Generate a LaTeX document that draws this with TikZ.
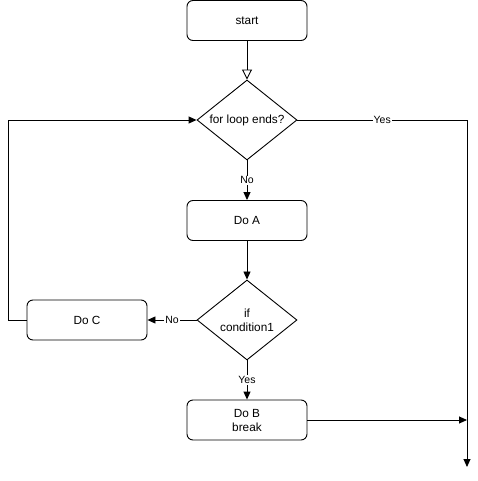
\documentclass[tikz,border=0pt]{standalone}
\usepackage{fontspec}
\setmainfont{Liberation Sans}
\usetikzlibrary{shapes.geometric,arrows.meta}
\begin{document}
\begin{tikzpicture}[x=1pt,y=-1pt,
  every node/.style={font=\fontsize{11.8}{14}\selectfont},
  box/.style={draw,rounded corners=6pt,minimum width=120pt,minimum height=40pt,align=center,line width=0.9pt,inner sep=0pt},
  dia/.style={draw,diamond,aspect=1.25,minimum width=100pt,minimum height=80pt,align=center,line width=0.9pt,inner sep=0pt},
  conn/.style={line width=0.9pt},
  arr/.style={conn,-{Triangle[length=8pt,width=7pt]}},
  lbl/.style={fill=white,inner sep=1pt,font=\fontsize{10.5}{12}\selectfont}]
\useasboundingbox (0,0) rectangle (478,481);
\node[box] (start) at (247,20.5) {start};
\node[dia] (loop) at (247,120) {for loop ends?};
\node[box] (doa) at (247,220.5) {Do A};
\node[dia] (cond) at (247,320) {if\\condition1};
\node[box] (doc) at (87,320) {Do C};
\node[box] (dob) at (247,420) {Do B\\break};
\coordinate (end) at (467,467);
\coordinate (ml) at (8,320);
\coordinate (tl) at (8,120);
\coordinate (tr) at (467,120);
\coordinate (jr) at (467,420);
\draw[conn,-{Triangle[open,length=10pt,width=10pt]}] (start) -- (loop);
\draw[arr] (loop) -- node[lbl]{No} (doa);
\draw[arr] (doa) -- (cond);
\draw[arr] (cond) -- node[lbl,pos=0.5]{No} (doc);
\draw[arr] (cond) -- node[lbl]{Yes} (dob);
\draw[arr] (doc.west) -- (ml) -- (tl) -- (loop.west);
\draw[arr] (loop.east) -- node[lbl,pos=0.5]{Yes} (tr) -- (end);
\draw[arr] (dob.east) -- (jr);
\end{tikzpicture}
\end{document}
